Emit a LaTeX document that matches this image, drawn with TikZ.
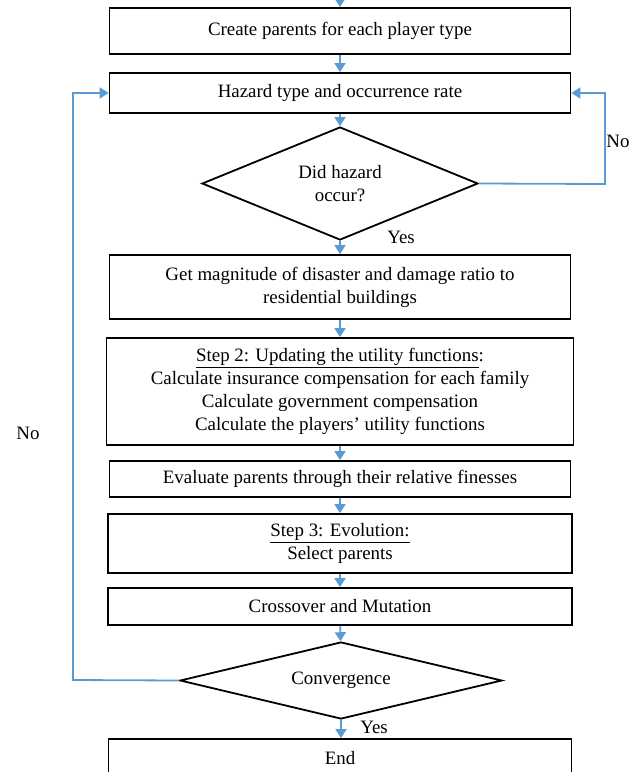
\documentclass[tikz,border=0pt]{standalone}
\usepackage{fontspec}
\setmainfont{Liberation Serif}
\usetikzlibrary{shapes.geometric,arrows.meta}
\definecolor{flowblue}{HTML}{5B9BD5}
\tikzset{
  box/.style={draw=black,line width=1.8pt,rectangle,minimum width=461pt,inner sep=0pt,align=center,font=\fontsize{18.9}{23}\selectfont},
  dia/.style={draw=black,line width=1.8pt,diamond,inner sep=0pt,align=center,font=\fontsize{18.9}{23}\selectfont},
  flow/.style={draw=flowblue,line width=1.8pt,-{Triangle[width=11pt,length=9pt]}},
  lab/.style={font=\fontsize{18.9}{22}\selectfont,inner sep=0pt}
}
\begin{document}
\begin{tikzpicture}[x=1pt,y=-1pt]
\useasboundingbox (0,0) rectangle (637,772);
\clip (0,0) rectangle (637,772);
\coordinate (top) at (340,-2);
\node[box,minimum height=46pt] (b1) at (340,31) {Create parents for each player type};
\node[box,minimum height=40pt] (b2) at (340,93) {Hazard type and occurrence rate};
\node[dia,minimum width=276pt,minimum height=113pt,shape aspect=2.44] (d1) at (340,183.5) {Did hazard\\occur?};
\node[box,minimum height=64pt] (b3) at (340,287) {Get magnitude of disaster and damage ratio to\\residential buildings};
\node[box,minimum height=107pt,minimum width=467pt] (b4) at (340,391.5) {\underline{Step 2: Updating the utility functions}:\\Calculate insurance compensation for each family\\Calculate government compensation\\Calculate the players’ utility functions};
\node[box,minimum height=36pt] (b5) at (340,479) {Evaluate parents through their relative finesses};
\node[box,minimum height=59pt,minimum width=464pt] (b6) at (340,543.5) {\underline{Step 3: Evolution:}\\Select parents};
\node[box,minimum height=37pt,minimum width=464pt] (b7) at (340,606.5) {Crossover and Mutation};
\node[dia,minimum width=322pt,minimum height=77pt,shape aspect=4.18] (d2) at (341,680.5) {Convergence};
\node[box,minimum height=46pt,minimum width=463pt] (b8) at (340,762) {};
\node[lab] (endt) at (340,758) {End};
\coordinate (rr) at (605,184);
\coordinate (ll) at (73,680);
\draw[flow] (top) -- (b1.north);
\draw[flow] (b1) -- (b2);
\draw[flow] (b2) -- (d1);
\draw[flow] (d1) -- (b3);
\draw[flow] (b3) -- (b4);
\draw[flow] (b4) -- (b5);
\draw[flow] (b5) -- (b6);
\draw[flow] (b6) -- (b7);
\draw[flow] (b7) -- (d2);
\draw[flow] (d2.south) -- (d2.south |- b8.north);
\draw[flow] (d1.east) -- (rr) |- (b2.east);
\draw[flow] (d2.west) -- (ll) |- (b2.west);
\node[lab] (no1) at (618,141) {No};
\node[lab] (no2) at (28,433) {No};
\node[lab] (yes1) at (401,237) {Yes};
\node[lab] (yes2) at (374,727) {Yes};
\end{tikzpicture}
\end{document}
